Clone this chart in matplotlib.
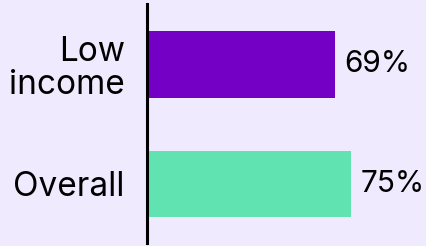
import matplotlib.pyplot as plt

plt.rcParams['font.family'] = ['Inter', 'DejaVu Sans']

categories = ["Overall", "Low\nincome"]
values = [75, 69]
colors = ["#60E3B1", "#7300C4"]
bg = "#EFEAFD"

fig = plt.figure(figsize=(4.26, 2.46), dpi=100, facecolor=bg)
ax = fig.add_axes([147 / 426, 0.012, 1 - 147 / 426, 0.972])
ax.set_facecolor(bg)

ypos = range(len(categories))
ax.barh(ypos, values, height=0.56, color=colors)
for y, v in zip(ypos, values):
    ax.text(v + 3.6, y, f"{v}%", va="center", ha="left", fontsize=21.5)

ax.set_yticks(list(ypos))
ax.set_yticklabels(categories, fontsize=24, linespacing=1.05)
ax.tick_params(axis="y", length=0, pad=16)
ax.set_xticks([])
ax.set_xlim(0, 102.6)
ax.set_ylim(-0.494, 1.506)
for s in ["top", "right", "bottom"]:
    ax.spines[s].set_visible(False)
ax.spines["left"].set_linewidth(2.2)

fig.savefig("out.png", dpi=100, facecolor=bg)
